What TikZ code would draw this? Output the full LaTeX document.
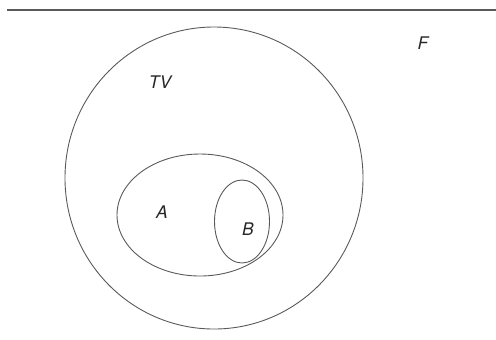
\documentclass[tikz,border=0pt]{standalone}
\usepackage{fontspec}
\setmainfont{TeX Gyre Heros}
\usetikzlibrary{positioning}
\definecolor{PenGray}{RGB}{90,90,90}
\begin{document}
\begin{tikzpicture}[x=0.5pt,y=-0.5pt,
  set/.style={draw=PenGray,line width=0.45pt},
  setlabel/.style={font=\itshape\fontsize{8.7}{10}\selectfont,text=black!85,inner sep=0pt},
]
\useasboundingbox (0,0) rectangle (496,339);
% frame line on top
\draw[draw=PenGray,line width=0.6pt] (7,10) -- (496,10);
% sets
\draw[set] (214,178) circle [x radius=149,y radius=151];
\draw[set] (200,215) ellipse [x radius=83,y radius=61];
\draw[set] (242,221.5) ellipse [x radius=27.5,y radius=41.5];
% labels
\node[setlabel] (F) at (423,43) {F};
\node[setlabel] (TV) at (160,82) {TV};
\node[setlabel] (A) at (162,212) {A};
\node[setlabel] (B) at (248,229) {B};
\end{tikzpicture}
\end{document}
